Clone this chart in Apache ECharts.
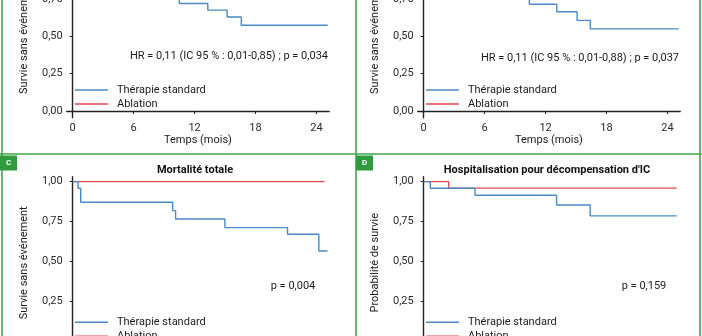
<!DOCTYPE html>
<html>
<head>
<meta charset="utf-8">
<script src="https://cdn.jsdelivr.net/npm/echarts@6/dist/echarts.min.js"></script>
<style>
  html, body { margin: 0; padding: 0; background: #fff; }
  #chart { width: 702px; height: 336px; }
</style>
</head>
<body>
<div id="chart"></div>
<script>
// Kaplan-Meier step data: [months, survival probability]
const seriesNames = ['Thérapie standard', 'Ablation'];
const monthTicks = [0, 6, 12, 18, 24];
const probTicks = [0, 0.25, 0.5, 0.75, 1];

// A - critère composite
const aStandard = [[0, 1], [1.0, 0.92], [5.5, 0.85], [8.5, 0.78], [10.5, 0.72], [13.3, 0.676], [15.2, 0.63], [16.6, 0.574], [25.1, 0.574]];
const aAblation = [[0, 1], [2.4, 0.96], [25.0, 0.96]];
const aNote = 'HR = 0,11 (IC 95 % : 0,01-0,85) ; p = 0,034';

// B
const bStandard = [[0, 1], [1.0, 0.92], [5.0, 0.86], [8.5, 0.79], [10.4, 0.715], [13.1, 0.665], [15.1, 0.607], [16.4, 0.55], [25.1, 0.55]];
const bAblation = [[0, 1], [2.4, 0.96], [25.0, 0.96]];
const bNote = 'HR = 0,11 (IC 95 % : 0,01-0,88) ; p = 0,037';

// C - Mortalité totale
const cTitle = 'Mortalité totale';
const cStandard = [[0, 1], [0.52, 0.959], [0.79, 0.871], [9.84, 0.819], [10.13, 0.767], [14.98, 0.713], [21.15, 0.671], [24.23, 0.567], [25.08, 0.567]];
const cAblation = [[0, 1], [24.8, 1]];
const cNote = 'p = 0,004';

// D - Hospitalisation pour décompensation d'IC
const dTitle = "Hospitalisation pour décompensation d'IC";
const dStandard = [[0, 1], [0.65, 0.959], [5.05, 0.915], [13.08, 0.854], [16.39, 0.786], [24.9, 0.786]];
const dAblation = [[0, 1], [2.46, 0.959], [24.9, 0.959]];
const dNote = 'p = 0,159';

const BLUE = '#4a8bc6';
const RED = '#e5484d';
const GREEN = '#3fa64b';
const FONT = 'Roboto, "Noto Sans", sans-serif';

const fmtProb = v => v.toFixed(2).replace('.', ',');

// panel geometry (top panels extend above the visible area)
const grids = [
  { left: 66.7, top: -42.9, width: 262.5, height: 160.6 },   // A
  { left: 417.7, top: -42.9, width: 262.5, height: 160.6 },  // B
  { left: 66.7, top: 176.7, width: 262.5, height: 172.2 },   // C
  { left: 417.7, top: 176.7, width: 262.5, height: 172.2 }   // D
].map(g => Object.assign({ outerBoundsMode: 'none', containLabel: false }, g));
const yNames = ['Survie sans événement', 'Survie sans événement', 'Survie sans événement', 'Probabilité de survie'];

const axisLine = { lineStyle: { color: '#222', width: 1.4 } };

const xAxes = grids.map((g, i) => ({
  type: 'value', gridIndex: i, min: -0.59, max: 25.25,
  name: 'Temps (mois)', nameLocation: 'middle', nameGap: 15,
  nameTextStyle: { fontFamily: FONT, fontSize: 11, color: '#1a1a1a' },
  axisLine: axisLine,
  axisTick: { customValues: monthTicks, length: 3, lineStyle: { color: '#222' } },
  axisLabel: { customValues: monthTicks, fontFamily: FONT, fontSize: 11, color: '#2a2a2a', margin: 5 },
  splitLine: { show: false }
}));

const yAxes = grids.map((g, i) => ({
  type: 'value', gridIndex: i, min: -0.045, max: 1.031,
  name: yNames[i], nameLocation: 'middle', nameGap: 37,
  nameTextStyle: { fontFamily: FONT, fontSize: 11, color: '#1a1a1a' },
  axisLine: axisLine,
  axisTick: { customValues: probTicks, length: 3, lineStyle: { color: '#222' } },
  axisLabel: { customValues: probTicks, formatter: fmtProb, fontFamily: FONT, fontSize: 11, color: '#2a2a2a', margin: 4 },
  splitLine: { show: false }
}));

const panels = [
  [aStandard, aAblation], [bStandard, bAblation], [cStandard, cAblation], [dStandard, dAblation]
];
const series = [];
panels.forEach(([std, abl], i) => {
  series.push({
    name: seriesNames[1], type: 'line', step: 'end', xAxisIndex: i, yAxisIndex: i,
    data: abl, symbol: 'none', lineStyle: { color: RED, width: 1.3 }, itemStyle: { color: RED }, z: 2
  });
  series.push({
    name: seriesNames[0], type: 'line', step: 'end', xAxisIndex: i, yAxisIndex: i,
    data: std, symbol: 'none', lineStyle: { color: BLUE, width: 1.4 }, itemStyle: { color: BLUE }, z: 3
  });
});

const legendPos = [[75, 83], [426, 83], [75, 315.3], [426, 315.3]];
const legends = legendPos.map(([l, t]) => ({
  data: seriesNames, left: l, top: t, width: 200, height: 60, orient: 'vertical',
  icon: 'rect', itemWidth: 33, itemHeight: 1.5, itemGap: 0, padding: 0,
  selectedMode: false,
  textStyle: { fontFamily: FONT, fontSize: 11, color: '#1a1a1a', lineHeight: 14, padding: [0, 0, 0, 4] }
}));

function txt(text, x, y, align, opts) {
  return {
    type: 'text', z: 10,
    style: Object.assign({
      text: text, x: x, y: y, align: align, textAlign: align,
      verticalAlign: 'middle', textVerticalAlign: 'middle',
      font: '11px ' + FONT, fill: '#1a1a1a'
    }, opts || {})
  };
}
function line(x1, y1, x2, y2) {
  return { type: 'line', z: 5, shape: { x1, y1, x2, y2 }, style: { stroke: GREEN, lineWidth: 1.6 } };
}
function tag(letter, x, y) {
  return [
    { type: 'rect', z: 6, shape: { x: x, y: y, width: 17, height: 15 }, style: { fill: '#2f9a3e' } },
    txt(letter, x + 8.5, y + 7.5, 'center', { font: 'bold 8px ' + FONT, fill: '#fff' })
  ];
}

const graphics = [
  line(0, 154, 702, 154),
  line(2, 0, 2, 336),
  line(356, 0, 356, 336),
  line(700, 0, 700, 336),
  ...tag('C', 0, 155.5),
  ...tag('D', 356, 155.5),
  txt(aNote, 328, 56.7, 'right'),
  txt(bNote, 679, 58.3, 'right'),
  txt(cNote, 293, 286.7, 'center'),
  txt(dNote, 644, 286.7, 'center'),
  txt(cTitle, 195, 170, 'center', { font: 'bold 11px ' + FONT, fill: '#111' }),
  txt(dTitle, 547, 170, 'center', { font: 'bold 11px ' + FONT, fill: '#111' })
];

const chart = echarts.init(document.getElementById('chart'), null, { renderer: 'canvas' });
chart.setOption({
  animation: false,
  backgroundColor: '#fff',
  grid: grids,
  xAxis: xAxes,
  yAxis: yAxes,
  legend: legends,
  series: series,
  graphic: { elements: graphics }
});
</script>
</body>
</html>
